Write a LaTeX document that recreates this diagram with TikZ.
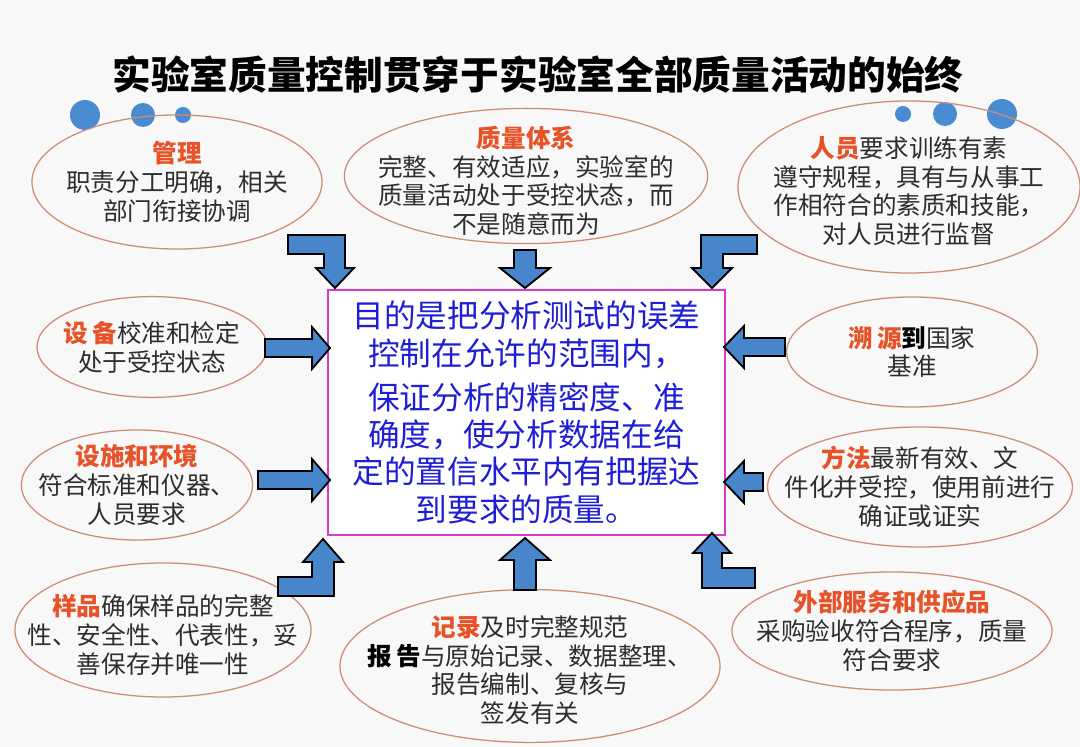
\documentclass[tikz,border=0pt]{standalone}
\usepackage{fontspec}
\setmainfont{Noto Sans CJK SC}
\usetikzlibrary{shapes.geometric}
\definecolor{arrowblue}{RGB}{72,134,204}
\definecolor{dotblue}{RGB}{74,140,210}
\definecolor{ovalline}{RGB}{205,140,120}
\definecolor{headred}{RGB}{232,82,40}
\definecolor{bodygray}{RGB}{45,45,45}
\definecolor{aimblue}{RGB}{30,30,215}
\definecolor{boxpink}{RGB}{215,60,200}
\definecolor{paper}{RGB}{248,248,248}
\newcommand{\hd}[1]{\textcolor{headred}{\bfseries #1}}
\newcommand{\bk}[1]{\textcolor{black}{\bfseries #1}}
\tikzset{
  oval/.style={ellipse, draw=ovalline, line width=0.9pt, inner sep=0pt},
  ovaltext/.style={align=center, text=bodygray, inner sep=0pt,
    font=\fontsize{17.5}{20.5}\selectfont},
  blockarrow/.style={fill=arrowblue, draw=black, line width=1.3pt, line join=miter},
  dot/.style={circle, fill=dotblue, inner sep=0pt}
}
\begin{document}
\begin{tikzpicture}[x=0.025cm, y=-0.025cm]
  \fill[paper] (0,0) rectangle (1080,747);
  \useasboundingbox (0,0) rectangle (1080,747);
  % title
  \node[font=\fontsize{27.5}{30}\selectfont\bfseries] (title) at (538,75)
    {实验室质量控制贯穿于实验室全部质量活动的始终};
  % decoration dots
  \foreach \n/\p/\d in {d1/{(85,115)}/0.75, d2/{(143,115)}/0.6, d3/{(183,115)}/0.4,
                        d4/{(903,114)}/0.4, d5/{(945,114)}/0.6, d6/{(1002,114)}/0.75}
    { \node[dot, minimum size=\d cm] (\n) at \p {}; }
  % surrounding ellipses
  \node[oval, minimum width=7.25cm, minimum height=3.35cm] (guanli) at (177,182) {};
  \node[oval, minimum width=9.08cm, minimum height=3.38cm] (tixi) at (526,176) {};
  \node[oval, minimum width=8.55cm, minimum height=4.3cm] (renyuan) at (909,187) {};
  \node[oval, minimum width=5.75cm, minimum height=2.52cm] (shebei) at (152,347) {};
  \node[oval, minimum width=6.27cm, minimum height=2.75cm] (suyuan) at (912,352) {};
  \node[oval, minimum width=5.78cm, minimum height=2.75cm] (sheshi) at (137,485) {};
  \node[oval, minimum width=7.62cm, minimum height=3cm] (fangfa) at (920,487) {};
  \node[oval, minimum width=7.4cm, minimum height=3.35cm] (yangpin) at (163,630) {};
  \node[oval, minimum width=9.5cm, minimum height=3.82cm] (jilu) at (530,666) {};
  \node[oval, minimum width=8cm, minimum height=2.95cm] (waibu) at (892,631) {};
  % their texts
  \node[ovaltext] (guanli-t) at (guanli) {\hd{管理}\\职责分工明确，相关\\部门衔接协调};
  \node[ovaltext] (tixi-t) at ([yshift=-1.2mm]tixi.center)
    {\hd{质量体系}\\完整、有效适应，实验室的\\质量活动处于受控状态，而\\不是随意而为};
  \node[ovaltext] (renyuan-t) at ([yshift=-1mm]renyuan.center)
    {\hd{人员}要求训练有素\\遵守规程，具有与从事工\\作相符合的素质和技能，\\对人员进行监督};
  \node[ovaltext] (shebei-t) at (shebei) {\hd{设\,备}校准和检定\\处于受控状态};
  \node[ovaltext] (suyuan-t) at (suyuan) {\hd{溯\,源}\bk{到}国家\\基准};
  \node[ovaltext] (sheshi-t) at (sheshi) {\hd{设施和环境}\\符合标准和仪器、\\人员要求};
  \node[ovaltext] (fangfa-t) at (fangfa) {\hd{方法}最新有效、文\\件化并受控，使用前进行\\确证或证实};
  \node[ovaltext] (yangpin-t) at ([yshift=-1.2mm]yangpin.center)
    {\hd{样品}确保样品的完整\\性、安全性、代表性，妥\\善保存并唯一性};
  \node[ovaltext] (jilu-t) at ([yshift=-1mm]jilu.center)
    {\hd{记录}及时完整规范\\\bk{报\,告}与原始记录、数据整理、\\报告编制、复核与\\签发有关};
  \node[ovaltext] (waibu-t) at (waibu) {\hd{外部服务和供应品}\\采购验收符合程序，质量\\符合要求};
  % centre box
  \node[draw=boxpink, line width=2pt, fill=white, minimum width=9.92cm,
        minimum height=6.12cm, align=center, text=aimblue,
        font=\fontsize{22.5}{26.5}\selectfont] (aim) at (526.5,412.5)
    {目的是把分析测试的误差\\控制在允许的范围内，\\[5pt]
     保证分析的精密度、准\\确度，使分析数据在给\\定的置信水平内有把握达\\到要求的质量。};
  % block arrows, top row
  \draw[blockarrow] (288,235) -- (345,235) -- (345,268) -- (354,268) -- (335,288)
    -- (316,268) -- (324,268) -- (324,254) -- (288,254) -- cycle;
  \draw[blockarrow] (514,250) -- (536,250) -- (536,268) -- (550,268) -- (525,288)
    -- (500,268) -- (514,268) -- cycle;
  \draw[blockarrow] (757,235) -- (701,235) -- (701,268) -- (692,268) -- (712,288)
    -- (732,268) -- (723,268) -- (723,254) -- (757,254) -- cycle;
  % block arrows, sides
  \foreach \y/\x in {348/265, 480/258}
    \draw[blockarrow] (\x,\y-9) -- (312,\y-9) -- (312,\y-21) -- (330,\y)
      -- (312,\y+21) -- (312,\y+9) -- (\x,\y+9) -- cycle;
  \foreach \y/\x in {347/785, 482/763}
    \draw[blockarrow] (\x,\y-9) -- (744,\y-9) -- (744,\y-21) -- (724,\y)
      -- (744,\y+21) -- (744,\y+9) -- (\x,\y+9) -- cycle;
  % block arrows, bottom row
  \draw[blockarrow] (278,577) -- (312,577) -- (312,562) -- (303,562) -- (323,539)
    -- (343,562) -- (334,562) -- (334,596) -- (278,596) -- cycle;
  \draw[blockarrow] (514,590) -- (536,590) -- (536,560) -- (550,560) -- (525,538)
    -- (500,560) -- (514,560) -- cycle;
  \draw[blockarrow] (755,568) -- (722,568) -- (722,553) -- (731,553) -- (712,533)
    -- (693,553) -- (702,553) -- (702,588) -- (755,588) -- cycle;
\end{tikzpicture}
\end{document}
